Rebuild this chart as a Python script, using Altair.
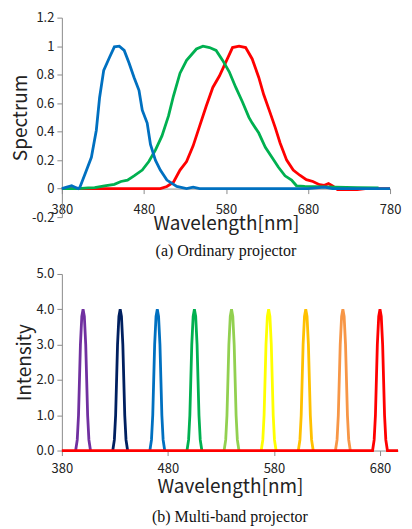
import altair as alt
import pandas as pd

# ---------- (a) Ordinary projector ----------
blue_nm = [380, 386, 392, 396, 400, 402, 408, 416, 422, 426, 431, 438, 444, 450, 456, 462, 468, 474, 478, 484, 488, 494, 500, 508, 520, 532, 540, 548, 600, 680, 700, 710, 780]
blue_val = [0.0, 0.01, 0.02, 0.01, 0.0, 0.01, 0.1, 0.22, 0.41, 0.64, 0.83, 0.92, 0.995, 1.0, 0.97, 0.88, 0.78, 0.69, 0.55, 0.46, 0.31, 0.2, 0.13, 0.06, 0.015, 0.0, 0.01, 0.0, 0.0, 0.0, 0.01, 0.0, 0.0]

green_nm = [380, 400, 412, 420, 432, 444, 452, 460, 468, 478, 486, 494, 502, 510, 516, 524, 532, 544, 552, 560, 568, 576, 584, 592, 600, 608, 612, 620, 628, 636, 644, 652, 660, 666, 676, 700, 740, 766]
green_val = [0.0, 0.0, 0.005, 0.007, 0.02, 0.03, 0.05, 0.06, 0.09, 0.13, 0.19, 0.27, 0.37, 0.51, 0.65, 0.81, 0.9, 0.98, 1.0, 0.99, 0.97, 0.9, 0.82, 0.71, 0.61, 0.5, 0.46, 0.39, 0.29, 0.22, 0.15, 0.09, 0.06, 0.02, 0.016, 0.012, 0.007, 0.005]

red_nm = [380, 500, 508, 516, 524, 532, 540, 548, 556, 564, 572, 580, 588, 596, 604, 612, 620, 626, 634, 640, 646, 654, 662, 670, 678, 686, 694, 700, 705, 710, 716, 740, 750, 780]
red_val = [0.0, 0.0, 0.015, 0.045, 0.13, 0.19, 0.3, 0.44, 0.58, 0.71, 0.79, 0.89, 0.99, 1.0, 0.99, 0.91, 0.78, 0.66, 0.53, 0.43, 0.32, 0.2, 0.13, 0.094, 0.063, 0.05, 0.028, 0.023, 0.035, 0.019, -0.007, -0.007, 0.0, 0.0]

a_x_ticks = [380, 480, 580, 680, 780]
a_y_ticks = [-0.2, 0, 0.2, 0.4, 0.6, 0.8, 1, 1.2]

# ---------- (b) Multi-band projector ----------
band_names = ["b1", "b2", "b3", "b4", "b5", "b6", "b7", "b8", "b9"]
band_centers = [400, 435, 470, 505, 540, 575, 610, 645, 680]
band_colors = ["#7030A0", "#002060", "#0070C0", "#00B050", "#92D050", "#FFFF00", "#FFC000", "#F79646", "#FF0000"]
peak_offsets = [-7, -5.5, -4.3, -3.4, -2.5, -1.2, 0, 1.2, 2.5, 3.4, 4.3, 5.5, 7]
peak_values = [0, 0.3, 1.0, 2.0, 3.0, 3.8, 4.0, 3.8, 3.0, 2.0, 1.0, 0.3, 0]
b_x_ticks = [380, 480, 580, 680]
b_y_ticks = [0, 1, 2, 3, 4, 5]

FONT = "Noto Sans CJK JP"
SERIF = "Liberation Serif"

rows = []
for s, nms, vals in [("red", red_nm, red_val), ("green", green_nm, green_val), ("blue", blue_nm, blue_val)]:
    for i, (n, v) in enumerate(zip(nms, vals)):
        rows.append({"series": s, "nm": n, "val": v, "i": i})
dfa = pd.DataFrame(rows)

axis_common = dict(
    domainColor="#8c8c8c", tickColor="#8c8c8c", grid=False,
    labelFont=FONT, labelFontSize=13, labelColor="#222222",
    titleFont=FONT, titleFontSize=19, titleFontWeight="normal", titleColor="#222222",
    tickSize=5, labelFlush=False, zindex=0,
)

def series_layer(df, name, color):
    return alt.Chart(df[df.series == name]).mark_line(strokeWidth=2.8, color=color).encode(
        x=alt.X("nm:Q", scale=alt.Scale(domain=[380, 780], nice=False, zero=False),
                axis=alt.Axis(values=a_x_ticks, offset=-28.6, title="Wavelength[nm]",
                              labelPadding=10, titlePadding=-2, **axis_common)),
        y=alt.Y("val:Q", scale=alt.Scale(domain=[-0.2, 1.2], nice=False),
                axis=alt.Axis(values=a_y_ticks, labelExpr="'' + datum.value", title="Spectrum",
                              labelPadding=3, titlePadding=1, **axis_common)),
        order="i:Q",
    )

chart_a = alt.layer(
    series_layer(dfa, "red", "#FF0000"),
    series_layer(dfa, "green", "#00B050"),
    series_layer(dfa, "blue", "#0070C0"),
).properties(
    width=329, height=200,
    title=alt.TitleParams("(a) Ordinary projector", orient="bottom", anchor="middle",
                          font=SERIF, fontSize=16, fontWeight="normal", color="#111111", offset=10),
)

brows = []
for name, c in zip(band_names, band_centers):
    if name == "b9":
        pts = [(380, 0.0)] + [(c + o, v) for o, v in zip(peak_offsets, peak_values)] + [(697, 0.0)]
    else:
        pts = [(c + o, v) for o, v in zip(peak_offsets, peak_values)]
    for i, (n, v) in enumerate(pts):
        brows.append({"band": name, "nm": n, "val": v, "i": i})
dfb = pd.DataFrame(brows)

bx = alt.X("nm:Q", scale=alt.Scale(domain=[380, 697], nice=False, zero=False),
           axis=alt.Axis(values=b_x_ticks, title="Wavelength[nm]", labelPadding=7, titlePadding=2, **axis_common))
by = alt.Y("val:Q", scale=alt.Scale(domain=[0, 5], nice=False),
           axis=alt.Axis(values=b_y_ticks, format=".1f", title="Intensity", labelPadding=3, titlePadding=1, **axis_common))

chart_b = alt.Chart(dfb).mark_line(strokeWidth=2.8).encode(
    x=bx, y=by,
    color=alt.Color("band:N", scale=alt.Scale(domain=band_names, range=band_colors), legend=None),
    order="i:Q",
).properties(
    width=337, height=177,
    title=alt.TitleParams("(b) Multi-band projector", orient="bottom", anchor="middle",
                          font=SERIF, fontSize=16, fontWeight="normal", color="#111111", offset=13),
)

chart = alt.vconcat(chart_a, chart_b, spacing=8).properties(
    padding={"left": 3, "top": 3, "right": 0, "bottom": 0}
).configure_view(stroke=None)

chart.save("out.html", embed_options={"renderer": "svg", "actions": False})
